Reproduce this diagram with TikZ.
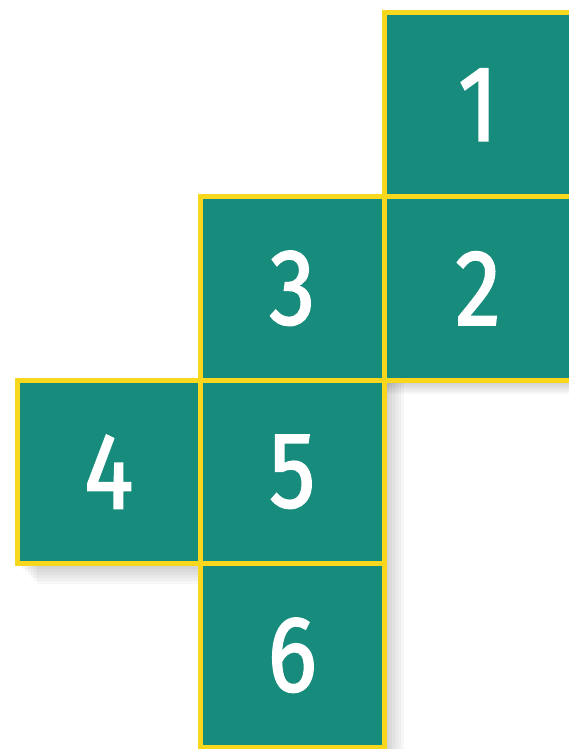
\documentclass[tikz,border=0pt]{standalone}
\usepackage{fontspec}
\setmainfont{Fira Sans}
\newfontfamily\digfont{Fira Sans}[FakeStretch=0.85, FakeBold=1.6]
\definecolor{tealc}{HTML}{178B7C}
\definecolor{yellowc}{HTML}{F9D71C}
\tikzset{
  face/.style={rectangle, minimum size=183.5pt, inner sep=0pt, fill=tealc,
    draw=yellowc, line width=5pt, text=white,
    font=\digfont\fontsize{108}{108}\selectfont},
  wideface/.style={face, minimum width=188pt},
  shade1/.style={fill=black, opacity=0.03, draw=none}
}
\begin{document}
\begin{tikzpicture}[x=1pt,y=-1pt]
\useasboundingbox (0,0) rectangle (569,749);
% soft shadows
\foreach \d in {2,5,8,11,14,17,20}{
  \fill[shade1] (17+\d,380+\d/3) rectangle (200,563.5+\d);
  \fill[shade1] (384,380) rectangle (384+\d,749);
  \fill[shade1] (384,380) rectangle (569,380+\d*0.7);
}
\node[wideface] (n1) at (478,104.75) {1};
\node[wideface] (n2) at (478,288.25) {2};
\node[face] (n3) at (292.25,288.25) {3};
\node[face] (n4) at (108.75,471.75) {4};
\node[face] (n5) at (292.25,471.75) {5};
\node[face] (n6) at (292.25,655.25) {6};
\end{tikzpicture}
\end{document}
